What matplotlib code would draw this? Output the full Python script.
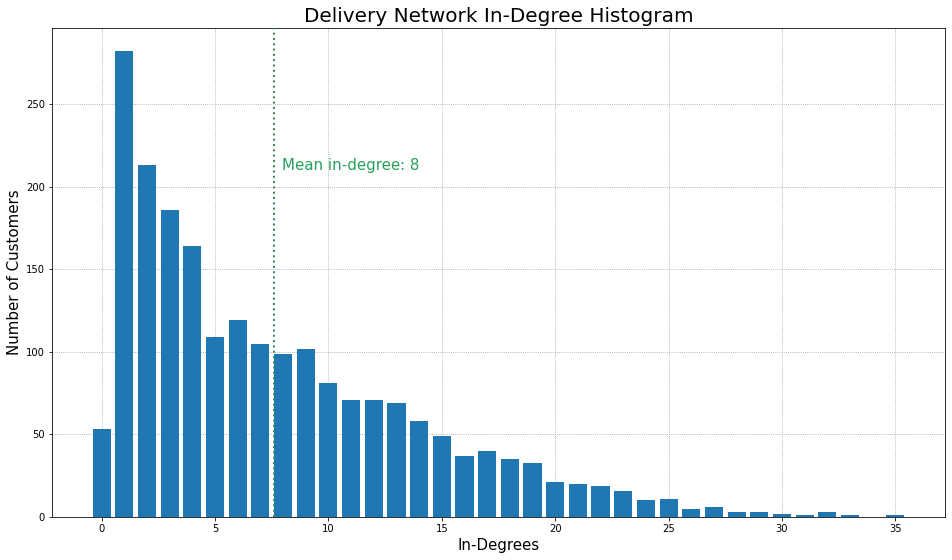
import numpy as np
import matplotlib
matplotlib.use('Agg')
import matplotlib.pyplot as plt

# in-degree -> number of customers
degrees = list(range(36))
counts = [53, 282, 213, 186, 164, 109, 119, 105, 99, 102,
          81, 71, 71, 69, 58, 49, 37, 40, 35, 33,
          21, 20, 19, 16, 10, 11, 5, 6, 3, 3,
          2, 1, 3, 1, 0, 1]

mean_deg = np.sum(np.array(degrees) * np.array(counts)) / np.sum(counts)

fig = plt.figure(figsize=(952 / 72, 560 / 72), dpi=72)
ax = fig.add_axes([52 / 952, 1 - 517 / 560, (945 - 52) / 952, (517 - 28) / 560])

ax.bar(degrees, counts, color='#1f77b4', zorder=2)
ax.axvline(mean_deg, color='#2e8b57', linestyle=':', linewidth=2, zorder=3)
ax.text(mean_deg + 0.38, 210, 'Mean in-degree: %d' % round(mean_deg),
        color='#26a05a', fontsize=15)

ax.grid(True, linestyle=':', color='#999999', linewidth=0.8, zorder=0)
ax.set_axisbelow(True)
ax.set_title('Delivery Network In-Degree Histogram', fontsize=20)
ax.set_xlabel('In-Degrees', fontsize=15)
ax.set_ylabel('Number of Customers', fontsize=15)

fig.savefig('out.png', dpi=72)
